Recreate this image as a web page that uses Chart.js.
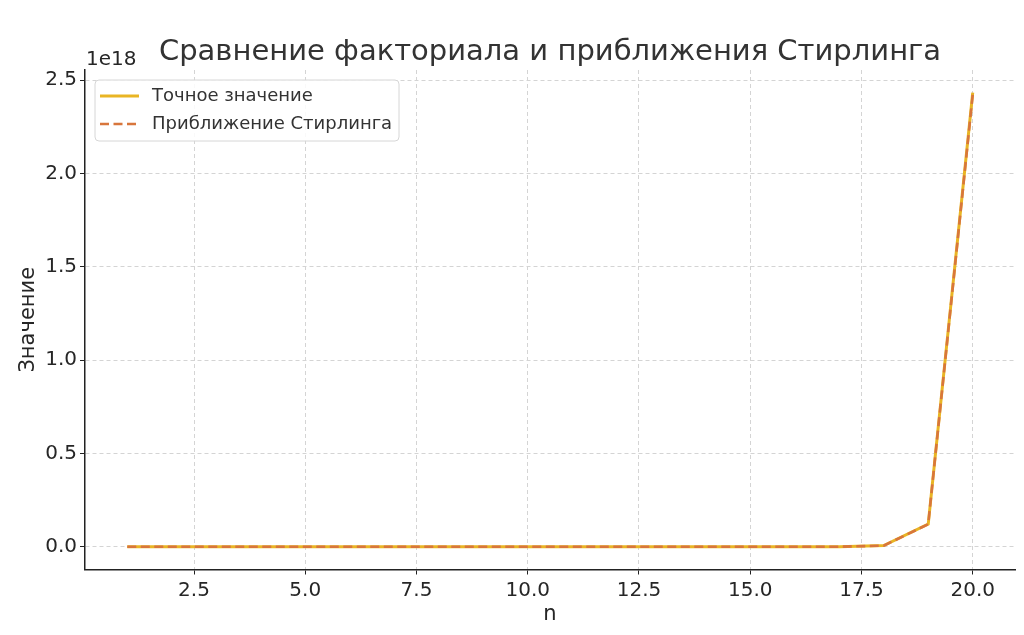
<!DOCTYPE html>
<html>
<head>
<meta charset="utf-8">
<script src="https://cdn.jsdelivr.net/npm/chart.js@4/dist/chart.umd.min.js"></script>
<style>
  html, body { margin: 0; padding: 0; background: #fff; }
  #wrap { width: 1024px; height: 635px; }
</style>
</head>
<body>
<div id="wrap"><canvas id="my-chart" width="1024" height="635"></canvas></div>
<script>
let n = [1, 2, 3, 4, 5, 6, 7, 8, 9, 10, 11, 12, 13, 14, 15, 16, 17, 18, 19, 20];
let exact = [1, 2, 6, 24, 120, 720, 5040, 40320, 362880, 3628800, 39916800, 479001600,
  6227020800, 87178291200, 1307674368000, 20922789888000, 355687428096000,
  6402373705728000, 121645100408832000, 2432902008176640000];
let stirling = [0.922, 1.919, 5.836, 23.51, 118.02, 710.08, 4980.4, 39902.4, 359536.9,
  3598695.6, 39615625, 475687486, 6187239475, 86661001741, 1300430722199,
  20814114415223, 353948328666101, 6372804626194309, 121112786592294190, 2422786846761133400];
let xTicks = [2.5, 5.0, 7.5, 10.0, 12.5, 15.0, 17.5, 20.0];
let yTicks = [0, 0.5e18, 1.0e18, 1.5e18, 2.0e18, 2.5e18];

const FONT = "'DejaVu Sans', sans-serif";
const TXT = '#262626';

// title, offset text, axis titles and legend drawn like matplotlib
let decor = {
  id: 'decor',
  afterDraw(chart) {
    let c = chart.ctx, a = chart.chartArea;
    c.save();
    c.fillStyle = '#333';
    c.font = '29px ' + FONT;
    c.textAlign = 'center';
    c.textBaseline = 'alphabetic';
    c.fillText('Сравнение факториала и приближения Стирлинга', (a.left + a.right) / 2, 60);

    c.fillStyle = TXT;
    c.font = '20px ' + FONT;
    c.textAlign = 'left';
    c.fillText('1e18', 86, 65);

    c.font = '21px ' + FONT;
    c.textAlign = 'center';
    c.fillText('n', (a.left + a.right) / 2, 620);
    c.translate(34, (a.top + a.bottom) / 2);
    c.rotate(-Math.PI / 2);
    c.fillText('Значение', 0, 0);
    c.restore();

    // legend
    c.save();
    let lx = 95, ly = 80, lw = 304, lh = 61;
    c.beginPath();
    c.roundRect(lx, ly, lw, lh, 4);
    c.fillStyle = 'rgba(255,255,255,0.85)';
    c.fill();
    c.strokeStyle = '#d6d6d6';
    c.lineWidth = 1;
    c.stroke();
    c.font = '18px ' + FONT;
    c.textAlign = 'left';
    c.textBaseline = 'middle';
    chart.data.datasets.forEach((ds, i) => {
      let y = 96 + i * 28;
      c.beginPath();
      c.setLineDash(ds.borderDash || []);
      c.strokeStyle = ds.borderColor;
      c.lineWidth = ds.borderWidth;
      c.moveTo(100, y);
      c.lineTo(139, y);
      c.stroke();
      c.setLineDash([]);
      c.fillStyle = '#333';
      c.fillText(ds.label, 152, y);
    });
    c.restore();
  }
};

let gridOpts = { color: '#d4d4d4', lineWidth: 1, tickColor: '#222', tickLength: 5, tickBorderDash: [] };
let borderOpts = { display: true, color: '#222', width: 1.5, dash: [4, 3] };

let ctx = document.getElementById('my-chart').getContext('2d');
let chart = new Chart(ctx, {
  type: 'line',
  data: {
    datasets: [{
      label: 'Точное значение',
      data: n.map((v, i) => ({ x: v, y: exact[i] })),
      borderColor: '#e9b524',
      borderWidth: 3,
      pointRadius: 0,
      tension: 0,
      order: 2
    }, {
      label: 'Приближение Стирлинга',
      data: n.map((v, i) => ({ x: v, y: stirling[i] })),
      borderColor: '#d8763c',
      borderWidth: 2.6,
      borderDash: [9, 4.5],
      pointRadius: 0,
      tension: 0,
      order: 1
    }]
  },
  options: {
    responsive: false,
    animation: false,
    layout: { padding: { left: 0, right: 9, top: 70, bottom: 0 } },
    plugins: {
      legend: { display: false },
      tooltip: { enabled: false },
      title: { display: false }
    },
    scales: {
      x: {
        type: 'linear',
        min: 0.05,
        max: 20.95,
        afterBuildTicks: s => { s.ticks = xTicks.map(v => ({ value: v })); },
        afterFit: s => { s.height = 65.5; },
        ticks: {
          color: TXT,
          font: { family: FONT, size: 20 },
          padding: 4,
          maxRotation: 0,
          callback: v => v.toFixed(1)
        },
        grid: gridOpts,
        border: borderOpts
      },
      y: {
        type: 'linear',
        min: -0.1216e18,
        max: 2.5545e18,
        afterBuildTicks: s => { s.ticks = yTicks.map(v => ({ value: v })); },
        afterFit: s => { s.width = 85; },
        ticks: {
          color: TXT,
          font: { family: FONT, size: 20 },
          padding: 3,
          callback: v => (v / 1e18).toFixed(1)
        },
        grid: gridOpts,
        border: borderOpts
      }
    }
  },
  plugins: [decor]
});
</script>
</body>
</html>
